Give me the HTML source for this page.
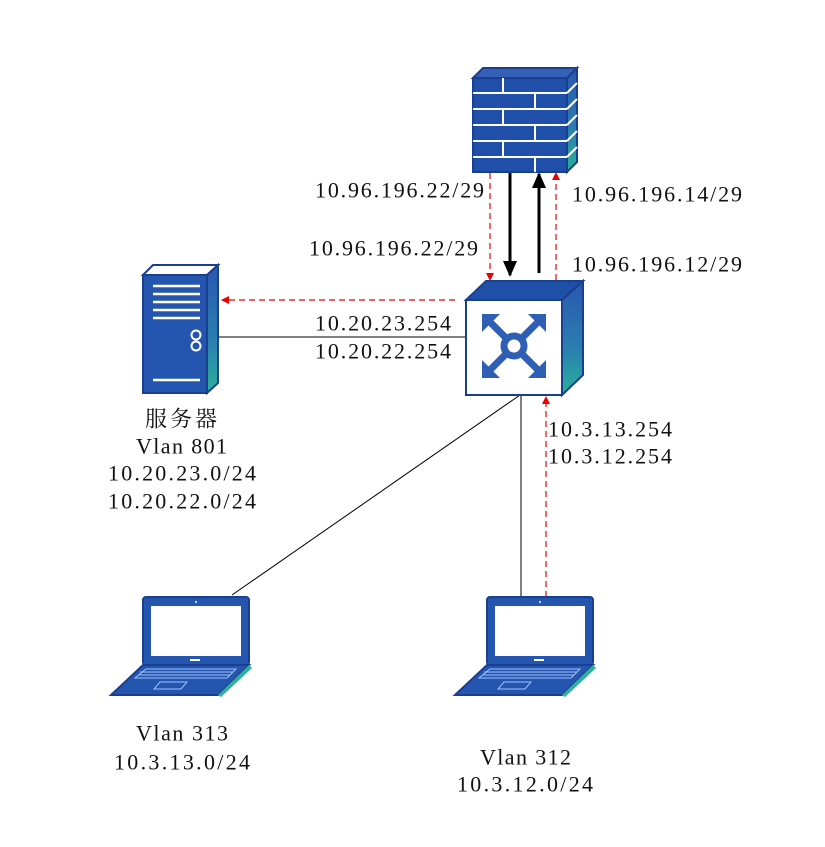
<!DOCTYPE html>
<html><head><meta charset="utf-8"><style>
html,body{margin:0;padding:0;background:#fff;}
svg{display:block;}
text{font-family:"Liberation Serif","Noto Serif CJK SC",serif;font-size:22px;fill:#111;dominant-baseline:central;}
</style></head><body>
<svg width="825" height="847" viewBox="0 0 825 847" xmlns="http://www.w3.org/2000/svg">
<defs>
<linearGradient id="side" x1="0" y1="0" x2="0" y2="1"><stop offset="0" stop-color="#2a56b0"/><stop offset="0.6" stop-color="#2a7fb0"/><stop offset="1" stop-color="#2ab39a"/></linearGradient>
<marker id="ra" markerWidth="8" markerHeight="8" refX="7" refY="4" orient="auto" markerUnits="userSpaceOnUse"><path d="M0,0 L8,4 L0,8 z" fill="#e00"/></marker>
<marker id="ba" markerWidth="16" markerHeight="14" refX="14" refY="7" orient="auto" markerUnits="userSpaceOnUse"><path d="M0,0 L16,7 L0,14 z" fill="#000"/></marker>
</defs>

<line x1="218" y1="337" x2="466" y2="337" stroke="#000" stroke-width="1"/>
<line x1="455" y1="300" x2="222" y2="300" stroke="#e00" stroke-width="1.2" stroke-dasharray="6,4" marker-end="url(#ra)"/>
<line x1="490" y1="173" x2="490" y2="280" stroke="#e00" stroke-width="1.2" stroke-dasharray="6,4" marker-end="url(#ra)"/>
<line x1="556" y1="280" x2="556" y2="173" stroke="#e00" stroke-width="1.2" stroke-dasharray="6,4" marker-end="url(#ra)"/>
<line x1="510" y1="173" x2="510" y2="275" stroke="#000" stroke-width="3" marker-end="url(#ba)"/>
<line x1="539" y1="273" x2="539" y2="174" stroke="#000" stroke-width="3" marker-end="url(#ba)"/>
<line x1="520" y1="395" x2="232" y2="595" stroke="#000" stroke-width="1"/>
<line x1="521" y1="395" x2="521" y2="597" stroke="#000" stroke-width="1"/>
<line x1="546" y1="597" x2="546" y2="397" stroke="#e00" stroke-width="1.2" stroke-dasharray="6,4" marker-end="url(#ra)"/>

<g>
<polygon points="473,78 483,68 577,68 567,78" fill="#3560b8" stroke="#1a3f8f" stroke-width="2"/>
<polygon points="567,78 577,68 577,162 567,172" fill="url(#side)" stroke="#1a3f8f" stroke-width="2"/>
<rect x="473" y="78" width="94" height="94" fill="#1f4fa8" stroke="#1a3f8f" stroke-width="2"/>
<g stroke="#fff" stroke-width="2">
<line x1="473" y1="93" x2="567" y2="93"/><line x1="473" y1="109" x2="567" y2="109"/><line x1="473" y1="125" x2="567" y2="125"/><line x1="473" y1="141" x2="567" y2="141"/><line x1="473" y1="157" x2="567" y2="157"/>
<line x1="503" y1="78" x2="503" y2="93"/><line x1="535" y1="93" x2="535" y2="109"/><line x1="503" y1="109" x2="503" y2="125"/><line x1="535" y1="125" x2="535" y2="141"/><line x1="503" y1="141" x2="503" y2="157"/><line x1="535" y1="157" x2="535" y2="172"/>
<line x1="567" y1="93" x2="577" y2="83"/><line x1="567" y1="109" x2="577" y2="99"/><line x1="567" y1="125" x2="577" y2="115"/><line x1="567" y1="141" x2="577" y2="131"/><line x1="567" y1="157" x2="577" y2="147"/>
</g>
</g>

<g>
<polygon points="466,300 486,281 583,281 562,300" fill="#1e50a8" stroke="#1a3f8f" stroke-width="2"/>
<polygon points="562,300 583,281 583,375 562,395" fill="url(#side)" stroke="#1a3f8f" stroke-width="2"/>
<rect x="466" y="300" width="96" height="95" fill="#fff" stroke="#1a3f8f" stroke-width="2"/>
<g fill="#2f5fb5" stroke="#2f5fb5">
<circle cx="514" cy="346" r="10" fill="none" stroke-width="7"/>
<g stroke-width="7"><line x1="489" y1="321" x2="505" y2="337"/><line x1="539" y1="321" x2="523" y2="337"/><line x1="489" y1="371" x2="505" y2="355"/><line x1="539" y1="371" x2="523" y2="355"/></g>
<polygon points="482,314 500,314 482,332" stroke="none"/>
<polygon points="546,314 528,314 546,332" stroke="none"/>
<polygon points="482,378 500,378 482,360" stroke="none"/>
<polygon points="546,378 528,378 546,360" stroke="none"/>
</g>
</g>

<g>
<polygon points="143,275 153,265 218,265 207,275" fill="#fff" stroke="#1a3f8f" stroke-width="2"/>
<polygon points="207,275 218,265 218,383 207,393" fill="url(#side)" stroke="#1a3f8f" stroke-width="2"/>
<rect x="143" y="275" width="64" height="118" fill="#2456b0" stroke="#1a3f8f" stroke-width="2"/>
<g stroke="#fff" stroke-width="2.5"><line x1="153" y1="286" x2="200" y2="286"/><line x1="153" y1="294" x2="200" y2="294"/><line x1="153" y1="302" x2="200" y2="302"/><line x1="153" y1="310" x2="200" y2="310"/><line x1="153" y1="318" x2="200" y2="318"/><line x1="153" y1="380" x2="200" y2="380"/></g>
<circle cx="196" cy="335" r="4.5" fill="none" stroke="#fff" stroke-width="2"/>
<circle cx="196" cy="346" r="4.5" fill="none" stroke="#fff" stroke-width="2"/>
</g>

<g id="lap">
<rect x="143" y="597" width="106" height="68" rx="3" fill="#2456b0" stroke="#1a3f8f" stroke-width="2"/>
<rect x="151" y="606" width="90" height="50" fill="#fff"/>
<rect x="190" y="659" width="10" height="2" fill="#fff"/>
<circle cx="196" cy="602" r="1" fill="#fff"/>
<polygon points="143,665 249,665 218,695 111,695" fill="#2456b0" stroke="#1a3f8f" stroke-width="2"/>
<polygon points="249,665 252,668 221,697 218,695" fill="#2ab39a"/>
<polygon points="146,669 236,669 227,678 135,678" fill="none" stroke="#9fc0ff" stroke-width="1"/>
<line x1="140" y1="672" x2="233" y2="672" stroke="#9fc0ff" stroke-width="1"/>
<line x1="138" y1="675" x2="230" y2="675" stroke="#9fc0ff" stroke-width="1"/>
<polygon points="160,682 187,682 181,689 154,689" fill="none" stroke="#9fc0ff" stroke-width="1"/>
</g>
<use href="#lap" transform="translate(344,0)"/>

<text x="315" y="190" textLength="169" lengthAdjust="spacing">10.96.196.22/29</text>
<text x="309" y="248" textLength="169" lengthAdjust="spacing">10.96.196.22/29</text>
<text x="572" y="194" textLength="170" lengthAdjust="spacing">10.96.196.14/29</text>
<text x="572" y="264" textLength="170" lengthAdjust="spacing">10.96.196.12/29</text>
<text x="315" y="323" textLength="136" lengthAdjust="spacing">10.20.23.254</text>
<text x="315" y="351" textLength="136" lengthAdjust="spacing">10.20.22.254</text>
<text x="145" y="419" textLength="72" lengthAdjust="spacing" style="font-size:22px">服务器</text>
<text x="136" y="446" textLength="91" lengthAdjust="spacing">Vlan 801</text>
<text x="108" y="473" textLength="148" lengthAdjust="spacing">10.20.23.0/24</text>
<text x="108" y="501" textLength="148" lengthAdjust="spacing">10.20.22.0/24</text>
<text x="548" y="429" textLength="124" lengthAdjust="spacing">10.3.13.254</text>
<text x="548" y="456" textLength="124" lengthAdjust="spacing">10.3.12.254</text>
<text x="136" y="733" textLength="92" lengthAdjust="spacing">Vlan 313</text>
<text x="114" y="762" textLength="136" lengthAdjust="spacing">10.3.13.0/24</text>
<text x="480" y="757" textLength="91" lengthAdjust="spacing">Vlan 312</text>
<text x="457" y="784" textLength="136" lengthAdjust="spacing">10.3.12.0/24</text>
</svg>
</body></html>
